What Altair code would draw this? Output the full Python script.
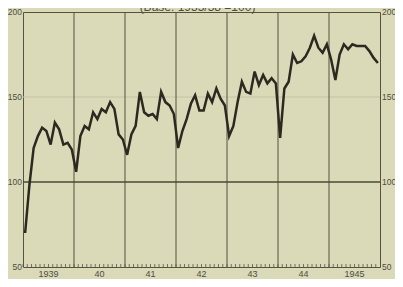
import altair as alt
import pandas as pd

# ---- data (monthly index, base 1935/38 = 100) ----
years = [1939, 1940, 1941, 1942, 1943, 1944, 1945]
year_labels = ["1939", "40", "41", "42", "43", "44", "1945"]
idx_1939 = [70, 98, 120, 127, 132, 130, 122, 135, 131, 122, 123, 119]
idx_1940 = [106, 127, 133, 131, 141, 137, 143, 141, 147, 143, 128, 125]
idx_1941 = [116, 128, 133, 153, 141, 139, 140, 137, 153, 147, 145, 140]
idx_1942 = [120, 130, 137, 146, 151, 142, 142, 152, 147, 155, 149, 145]
idx_1943 = [127, 133, 147, 159, 153, 152, 165, 157, 163, 158, 161, 158]
idx_1944 = [126, 155, 159, 175, 170, 171, 174, 179, 186, 179, 176, 181]
idx_1945 = [172, 160, 175, 181, 178, 181, 180, 180, 180, 177, 173, 170]
y_ticks = [50, 100, 150, 200]
title_text = "(Base: 1935/38 =100)"

series = [idx_1939, idx_1940, idx_1941, idx_1942, idx_1943, idx_1944, idx_1945]

W, H = 357, 255
BG = "#dad9b8"
INK = "#2c2a20"
TXT = "#4f4d3e"
FONT = "Liberation Sans Narrow, Liberation Sans, sans-serif"

rows = []
for yr, vals in zip(years, series):
    for m, v in enumerate(vals):
        rows.append({"t": yr + (m + 0.5) / 12, "v": v})
line_df = pd.DataFrame(rows)

month_df = pd.DataFrame({"t": [yr + m / 12 for yr in years for m in range(12)]})
bound_df = pd.DataFrame({"t": years[1:]})
label_df = pd.DataFrame({"t": [y + 0.5 for y in years], "lab": year_labels})
ytick_df = pd.DataFrame({"v": y_ticks, "lab": [str(v) for v in y_ticks]})

xs = alt.Scale(domain=[1939, 1946], nice=False, zero=False)
ys = alt.Scale(domain=[50, 200], nice=False, zero=False)

def x_enc(f="t"):
    return alt.X(f"{f}:Q", scale=xs, axis=None)

def y_enc(f="v"):
    return alt.Y(f"{f}:Q", scale=ys, axis=None)

vlines = alt.Chart(bound_df).mark_rule(color="#55533f", strokeWidth=1).encode(
    x=x_enc(), y=alt.value(0), y2=alt.value(H)
)

h100 = alt.Chart(pd.DataFrame({"v": [100]})).mark_rule(color="#4a4836", strokeWidth=1.3).encode(
    y=y_enc(), x=alt.value(0), x2=alt.value(W)
)
h150 = alt.Chart(pd.DataFrame({"v": [150]})).mark_rule(color="#c4c3a4", strokeWidth=1).encode(
    y=y_enc(), x=alt.value(0), x2=alt.value(W)
)

mticks = alt.Chart(month_df).mark_rule(color="#5a5844", strokeWidth=0.8).encode(
    x=x_enc(), y=alt.value(H), y2=alt.value(H - 3)
)

line = alt.Chart(line_df).mark_line(color=INK, strokeWidth=2.5, strokeJoin="miter").encode(
    x=x_enc(), y=y_enc()
)

xlabels = alt.Chart(label_df).mark_text(
    font=FONT, fontSize=9, color=TXT, baseline="middle"
).encode(x=x_enc(), y=alt.value(H + 7), text="lab:N")

ylab_left = alt.Chart(ytick_df).mark_text(
    font=FONT, fontSize=8.5, color=TXT, align="right", baseline="middle"
).encode(y=y_enc(), x=alt.value(-1), text="lab:N")

ylab_right = alt.Chart(ytick_df).mark_text(
    font=FONT, fontSize=8.5, color=TXT, align="left", baseline="middle"
).encode(y=y_enc(), x=alt.value(W + 2), text="lab:N")

title = alt.Chart(pd.DataFrame({"lab": [title_text]})).mark_text(
    font=FONT, fontSize=12, color=TXT, align="center", baseline="alphabetic"
).encode(x=alt.value(W / 2 - 4), y=alt.value(-1), text="lab:N")

chart = alt.layer(
    h150, vlines, h100, mticks, line, xlabels, ylab_left, ylab_right, title
).properties(
    width=W,
    height=H,
    background=BG,
    autosize=alt.AutoSizeParams(type="none"),
    padding={"left": 15, "top": 4, "right": 15, "bottom": 12},
).configure_view(
    stroke="#55533f", strokeWidth=1, fill=BG
)

chart.save("out.html", embed_options={"renderer": "svg", "actions": False})
